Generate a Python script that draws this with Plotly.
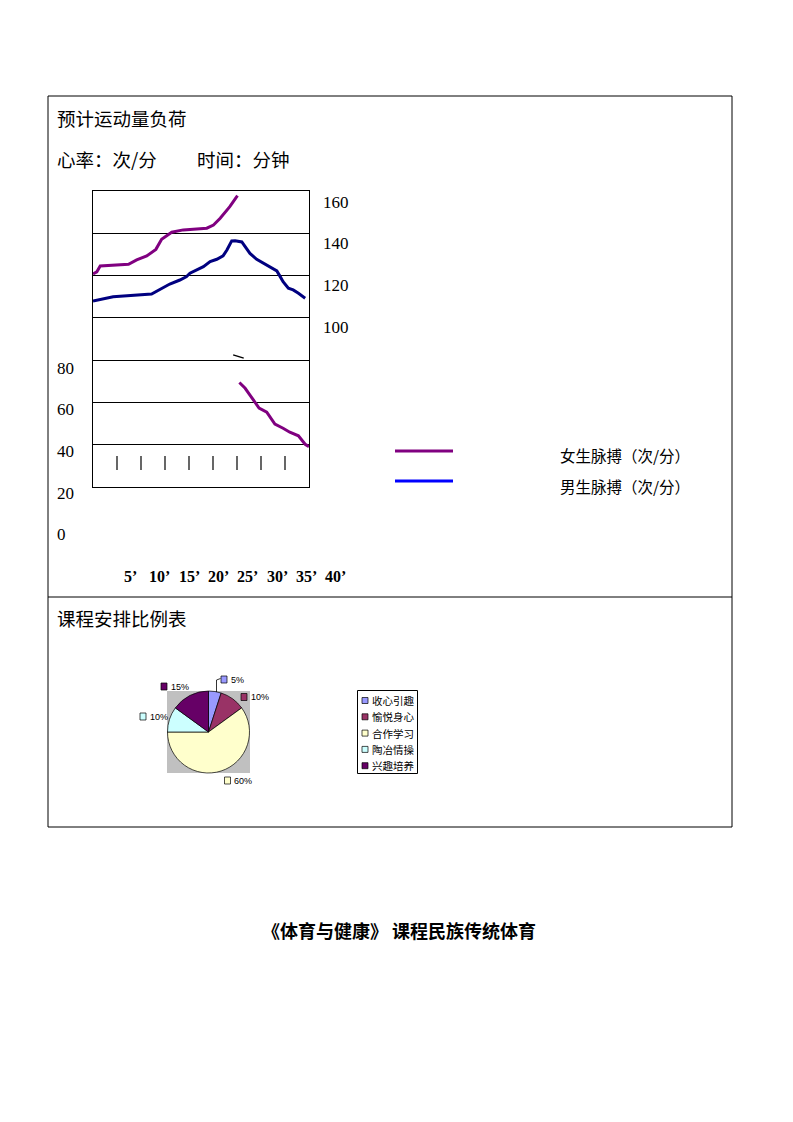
import plotly.graph_objects as go

# page is 793x1122, plotly's div sits 8px in from the body edge
OFF = 8
W, H = 793 - 2 * OFF, 1122 - 2 * OFF

# heart rate chart data (minutes, beats/min as drawn on the grid)
girls_min_a = [0, 0.8, 1.5, 7.4, 9.1, 11.2, 13.1, 13.6, 14.3, 16.4, 18.8, 23.7, 25.1, 26.5, 28.5, 30.1]
girls_val_a = [120.8, 121.8, 124.5, 125.3, 127.4, 129.3, 132.4, 134.5, 137.2, 140.5, 141.6, 142.4, 143.9, 147.1, 152.6, 157.8]
girls_min_b = [30.5, 31.7, 32.7, 33.8, 34.6, 36.2, 36.9, 37.9, 39.6, 41.0, 42.8, 43.5, 44.2, 45.0]
girls_val_b = [69.4, 66.7, 63.5, 59.9, 57.3, 55.4, 53.0, 49.8, 47.8, 45.9, 44.2, 41.9, 40.2, 39.1]
boys_min = [0, 4.2, 12.2, 13.3, 14.6, 16.0, 18.1, 19.5, 20.2, 21.6, 23.0, 24.4, 25.8, 27.1, 27.9,
            28.9, 29.6, 31.0, 31.7, 32.7, 34.1, 36.2, 38.3, 39.0, 39.6, 40.7, 41.7, 42.8, 44.2]
boys_val = [108.0, 110.0, 111.3, 112.7, 114.0, 116.0, 117.9, 119.5, 121.1, 122.6, 124.2, 126.6, 127.7, 129.3, 132.1,
            136.4, 136.5, 135.9, 133.7, 130.5, 127.7, 125.0, 122.2, 119.5, 117.1, 114.0, 113.2, 111.6, 109.3]
stray_min = [29.2, 31.4]
stray_val = [82.5, 80.9]
tick_min = [5, 10, 15, 20, 25, 30, 35, 40]

right_labels = ["160", "140", "120", "100"]
left_labels = ["80", "60", "40", "20", "0"]
x_labels = ["5’", "10’", "15’", "20’", "25’", "30’", "35’", "40’"]
series_names = ["女生脉搏（次/分）", "男生脉搏（次/分）"]
series_colors = ["#800080", "#0000FF"]

# course arrangement pie
pie_labels = ["收心引趣", "愉悦身心", "合作学习", "陶冶情操", "兴趣培养"]
pie_values = [5, 10, 60, 10, 15]
pie_colors = ["#9999FF", "#993366", "#FFFFCC", "#CCFFFF", "#660066"]

CJK = "Noto Sans CJK SC"
SERIF = "Liberation Serif, Noto Sans CJK SC"


def px(x):
    return (x - OFF) / W


def py(y):
    return 1 - (y - OFF) / H


fig = go.Figure()

fig.add_trace(go.Scatter(
    x=girls_min_a + [None] + girls_min_b, y=girls_val_a + [None] + girls_val_b,
    mode="lines", line=dict(color="#800080", width=3), connectgaps=False))
fig.add_trace(go.Scatter(x=boys_min, y=boys_val, mode="lines", line=dict(color="#000080", width=3)))
fig.add_trace(go.Scatter(x=stray_min, y=stray_val, mode="lines", line=dict(color="black", width=1.3)))
fig.add_trace(go.Scatter(
    x=tick_min, y=[31.3] * len(tick_min), mode="markers",
    marker=dict(symbol="line-ns", size=10, line=dict(color="black", width=1.2))))

fig.add_trace(go.Pie(
    values=pie_values, labels=pie_labels, sort=False, direction="clockwise", rotation=0,
    marker=dict(colors=pie_colors, line=dict(color="black", width=0.7)),
    textinfo="none", hoverinfo="label+percent",
    domain=dict(x=[px(167), px(250)], y=[py(773), py(691)])))

fig.update_xaxes(range=[0, 45], domain=[px(93), px(309)], showgrid=False, zeroline=False,
                 showticklabels=False, showline=True, mirror=True, linecolor="black", linewidth=1)
fig.update_yaxes(range=[20, 160], domain=[py(487), py(191)], tick0=20, dtick=20, showgrid=True,
                 gridcolor="black", gridwidth=1, zeroline=False, showticklabels=False,
                 showline=True, mirror=True, linecolor="black", linewidth=1)

shapes = [
    dict(type="rect", xref="paper", yref="paper", x0=px(48), x1=px(732), y0=py(827), y1=py(96),
         line=dict(color="black", width=1)),
    dict(type="line", xref="paper", yref="paper", x0=px(48), x1=px(732), y0=py(597), y1=py(597),
         line=dict(color="black", width=1)),
    # grey pie background
    dict(type="rect", xref="paper", yref="paper", x0=px(167), x1=px(250), y0=py(773), y1=py(691),
         fillcolor="#C0C0C0", line=dict(width=0), layer="below"),
    # pie legend box
    dict(type="rect", xref="paper", yref="paper", x0=px(357.5), x1=px(417.5), y0=py(773.5), y1=py(690.5),
         line=dict(color="black", width=1), fillcolor="white"),
    # leader line of 5% label
    dict(type="path", xref="paper", yref="paper",
         path=f"M {px(216.5)},{py(692)} L {px(216.5)},{py(680)} L {px(220.5)},{py(678.5)}",
         line=dict(color="black", width=0.8)),
]

# line legend
for i, (nm, col) in enumerate(zip(series_names, series_colors)):
    yy = 451 + 30 * i
    shapes.append(dict(type="line", xref="paper", yref="paper", x0=px(395), x1=px(453), y0=py(yy), y1=py(yy),
                       line=dict(color=col, width=3)))

annotations = []


def txt(s, x, y, size, family=CJK, anchor="left", color="black", bold=False):
    annotations.append(dict(text=f"<b>{s}</b>" if bold else s, x=px(x), y=py(y), xref="paper", yref="paper",
                            xanchor=anchor, yanchor="middle", showarrow=False,
                            font=dict(size=size, family=family, color=color)))


txt("预计运动量负荷", 55, 118, 18.5)
txt("心率：次/分", 55, 159, 18.5)
txt("时间：分钟", 195, 159, 18.5)
txt("课程安排比例表", 55, 618, 18.5)
txt("《体育与健康》 课程民族传统体育", 399, 930, 18, bold=True, anchor="center")

for i, s in enumerate(right_labels):
    txt(s, 321, 202 + 41.7 * i, 17, family=SERIF)
for i, s in enumerate(left_labels):
    txt(s, 55, 368 + 41.7 * i, 17, family=SERIF)
for i, s in enumerate(x_labels):
    txt(s, 130.5 + 29.3 * i, 576, 16, family=SERIF, anchor="center", bold=True)
for i, nm in enumerate(series_names):
    txt(nm, 558, 455 + 31 * i, 15.5)

# pie legend entries
for i, (lab, col) in enumerate(zip(pie_labels, pie_colors)):
    yy = 700.5 + 16.3 * i
    shapes.append(dict(type="rect", xref="paper", yref="paper", x0=px(362), x1=px(368), y0=py(yy + 3),
                       y1=py(yy - 3), fillcolor=col, line=dict(color="black", width=0.7)))
    txt(lab, 370, yy, 10.5)

# percent labels with colour keys (left edge of key, centre y)
pct_pos = [(221, 679.5), (241, 697), (224.5, 780.5), (140, 716.5), (161, 686.5)]
for v, col, (kx, ky) in zip(pie_values, pie_colors, pct_pos):
    shapes.append(dict(type="rect", xref="paper", yref="paper", x0=px(kx), x1=px(kx + 6), y0=py(ky + 3.5),
                       y1=py(ky - 3.5), fillcolor=col, line=dict(color="black", width=0.7)))
    txt(f"{v}%", kx + 7.5, ky, 9, family="Liberation Sans")

fig.update_layout(
    width=W, height=H, margin=dict(l=0, r=0, t=0, b=0),
    paper_bgcolor="white", plot_bgcolor="white", showlegend=False,
    shapes=shapes, annotations=annotations)

fig.write_html("out.html")
